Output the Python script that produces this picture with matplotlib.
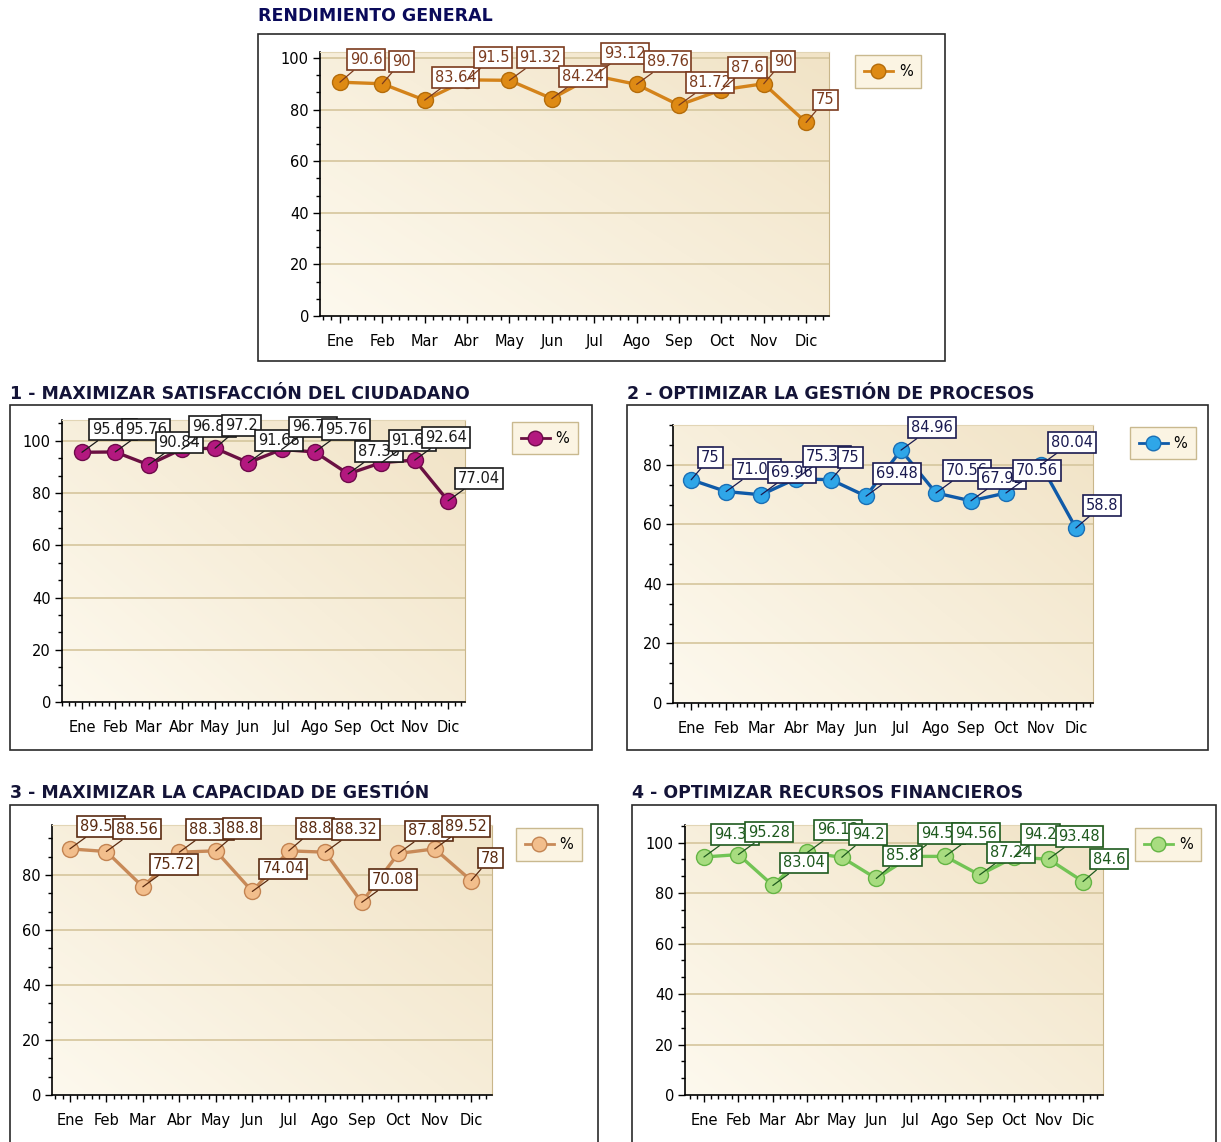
import numpy as np
import matplotlib
matplotlib.use('Agg')
from matplotlib import pyplot as plt
from matplotlib.patches import Rectangle
from matplotlib.lines import Line2D
from matplotlib.ticker import AutoMinorLocator

# datos
meses = ['Ene', 'Feb', 'Mar', 'Abr', 'May', 'Jun', 'Jul', 'Ago', 'Sep', 'Oct', 'Nov', 'Dic']
rendimiento_general = [90.6, 90, 83.64, 91.5, 91.32, 84.24, 93.12, 89.76, 81.72, 87.6, 90, 75]
satisfaccion = [95.64, 95.76, 90.84, 96.84, 97.2, 91.68, 96.72, 95.76, 87.36, 91.68, 92.64, 77.04]
procesos = [75, 71.04, 69.96, 75.36, 75, 69.48, 84.96, 70.56, 67.92, 70.56, 80.04, 58.8]
capacidad = [89.52, 88.56, 75.72, 88.32, 88.8, 74.04, 88.8, 88.32, 70.08, 87.84, 89.52, 78]
financieros = [94.32, 95.28, 83.04, 96.12, 94.2, 85.8, 94.56, 94.56, 87.24, 94.2, 93.48, 84.6]

W, H = 1221, 1142
fig = plt.figure(figsize=(W / 100, H / 100), dpi=100)


def fx(x):
    return x / W


def fy(y):
    return 1 - y / H


def panel(title, tx, ty, box, plot, values, ylim, yticks, xlim, legend_xy,
          face, edge, line, lab, title_color='#141438'):
    # caja exterior
    x0, y0, x1, y1 = box
    fig.patches.append(Rectangle((fx(x0), fy(y1)), fx(x1 - x0), (y1 - y0) / H,
                                 transform=fig.transFigure, fill=False,
                                 ec='#2a2a2a', lw=1.2))
    fig.text(fx(tx), fy(ty), title, fontsize=12.5, fontweight='bold',
             color=title_color, va='center', ha='left')

    l, t, r, b = plot
    ax = fig.add_axes([fx(l), fy(b), fx(r - l), (b - t) / H])
    ax.set_xlim(*xlim)
    ax.set_ylim(*ylim)

    # fondo degradado beige
    gx, gy = np.meshgrid(np.linspace(0, 1, 200), np.linspace(0, 1, 200))
    g = 0.55 * gx + 0.45 * gy
    c0 = np.array([253, 249, 238]) / 255
    c1 = np.array([241, 227, 198]) / 255
    img = c0 + (c1 - c0) * g[..., None]
    ax.imshow(img, extent=(xlim[0], xlim[1], ylim[0], ylim[1]), origin='lower',
              aspect='auto', zorder=0)

    for yt in yticks[1:]:
        ax.axhline(yt, color='#d8c9a2', lw=1.3, zorder=1)

    x = np.arange(len(meses))
    ax.plot(x, values, color=line, lw=2.4, zorder=3)
    ax.plot(x, values, 'o', ms=11.5, mfc=face, mec=edge, mew=1.0, zorder=4)

    for i, v in enumerate(values):
        ax.annotate('{:g}'.format(v), xy=(i, v), xytext=(10, 15),
                    textcoords='offset pixels', ha='left', va='bottom',
                    fontsize=10.5, color=lab, annotation_clip=False,
                    bbox=dict(boxstyle='square,pad=0.2', fc='white', ec=lab, lw=1.2),
                    arrowprops=dict(arrowstyle='-', color=lab, lw=0.9,
                                    shrinkA=0, shrinkB=0),
                    zorder=6 + i)

    ax.set_xticks(x)
    ax.set_xticklabels(meses)
    ax.xaxis.set_minor_locator(AutoMinorLocator(5))
    ax.set_yticks(yticks)
    ax.yaxis.set_minor_locator(AutoMinorLocator(3))
    ax.tick_params(axis='both', which='major', length=5, width=1, labelsize=10.5,
                   colors='black', pad=3)
    ax.tick_params(axis='both', which='minor', length=3, width=1)
    ax.tick_params(axis='x', which='major', pad=8)
    for s in ['left', 'bottom']:
        ax.spines[s].set_color('black')
        ax.spines[s].set_linewidth(1.2)
    ax.spines['right'].set_color('#c9b68a')
    ax.spines['top'].set_color('#e2d5b5')

    h = Line2D([], [], color=line, lw=2, marker='o', ms=10.5, mfc=face, mec=edge)
    ax.legend([h], ['%'], loc='upper left',
              bbox_to_anchor=(fx(legend_xy[0]), fy(legend_xy[1])),
              bbox_transform=fig.transFigure, borderaxespad=0, fancybox=False,
              frameon=True, edgecolor='#c9b98f', facecolor='#fbf4e3',
              framealpha=1, fontsize=10.5, handlelength=2.0, borderpad=0.6,
              handletextpad=0.4)
    return ax


panel('RENDIMIENTO GENERAL', 258, 16, (258, 34, 945, 361), (320, 52, 829, 316),
      rendimiento_general, (0, 102.3), [0, 20, 40, 60, 80, 100], (-0.47, 11.54),
      (855, 55), '#de8a14', '#b46c0a', '#d4831a', '#7b3b1e', title_color='#0a0a5a')

panel('1 - MAXIMIZAR SATISFACCIÓN DEL CIUDADANO', 10, 394, (10, 405, 592, 750),
      (62, 420, 465, 702), satisfaccion, (0, 108), [0, 20, 40, 60, 80, 100],
      (-0.6, 11.51), (512, 422), '#b3187f', '#6e0a4a', '#6a1042', '#1a1a1a')

panel('2 - OPTIMIZAR LA GESTIÓN DE PROCESOS', 627, 394, (627, 405, 1208, 750),
      (673, 425, 1093, 703), procesos, (0, 93.4), [0, 20, 40, 60, 80],
      (-0.52, 11.49), (1130, 427), '#2fa6e8', '#1a6fb5', '#0f5aa8', '#1a1a50')

panel('3 - MAXIMIZAR LA CAPACIDAD DE GESTIÓN', 10, 793, (10, 805, 598, 1160),
      (52, 825, 492, 1095), capacidad, (0, 98.2), [0, 20, 40, 60, 80],
      (-0.49, 11.57), (516, 828), '#f2be8c', '#c38452', '#c88a58', '#5a2a10')

panel('4 - OPTIMIZAR RECURSOS FINANCIEROS', 632, 793, (632, 805, 1216, 1160),
      (685, 825, 1103, 1095), financieros, (0, 107), [0, 20, 40, 60, 80, 100],
      (-0.55, 11.58), (1135, 828), '#a8dc80', '#64b444', '#72c455', '#1e5a1e')

fig.savefig('out.png', dpi=100)
